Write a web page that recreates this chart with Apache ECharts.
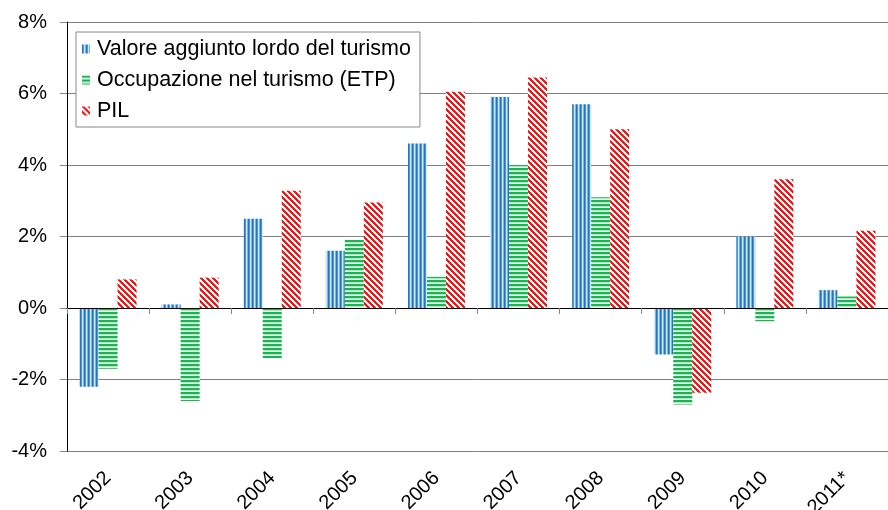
<!DOCTYPE html>
<html>
<head>
<meta charset="utf-8">
<script src="https://cdn.jsdelivr.net/npm/echarts@6/dist/echarts.min.js"></script>
<style>
  html, body { margin: 0; padding: 0; background: #fff; }
  #chart { width: 888px; height: 510px; }
</style>
</head>
<body>
<div id="chart"></div>
<script>
const categories = ['2002', '2003', '2004', '2005', '2006', '2007', '2008', '2009', '2010', '2011*']
const valoreAggiunto = [-2.2, 0.1, 2.5, 1.6, 4.6, 5.9, 5.7, -1.3, 2.0, 0.5]
const occupazione = [-1.7, -2.6, -1.4, 1.9, 0.87, 4.0, 3.1, -2.7, -0.37, 0.32]
const pil = [0.8, 0.85, 3.28, 2.95, 6.05, 6.45, 5.0, -2.37, 3.6, 2.16]
const yMin = -4, yMax = 8, yStep = 2

const font = 'Liberation Sans, Arial, sans-serif'

// striped fills drawn on small canvases
function stripes(w, h, paint) {
  const c = document.createElement('canvas')
  c.width = w; c.height = h
  const ctx = c.getContext('2d')
  for (let x = 0; x < w; x++) {
    for (let y = 0; y < h; y++) {
      ctx.fillStyle = paint(x, y)
      ctx.fillRect(x, y, 1, 1)
    }
  }
  return { image: c, repeat: 'repeat' }
}
const blueCols = ['#1f74c6', '#4f97da', '#d6e8f8', '#7fb5e6']
const greenRows = ['#18b554', '#18b554', '#b5e7c5', '#e6f7eb']
const blueFill = stripes(4, 1, (x) => blueCols[x])
const greenFill = stripes(1, 4, (x, y) => greenRows[y])
const redFill = stripes(6, 6, (x, y) => ((x - y + 6) % 6) < 3 ? '#ff1010' : '#ffffff')

const chart = echarts.init(document.getElementById('chart'))

const barBase = { type: 'bar', barWidth: 19, barGap: '0%', xAxisIndex: 0 }

chart.setOption({
  animation: false,
  textStyle: { fontFamily: font },
  grid: { left: 67, right: 0, top: 22, bottom: 59, containLabel: false, outerBoundsMode: 'none' },
  legend: {
    orient: 'vertical',
    left: 76,
    top: 32,
    padding: [6, 9, 5, 6],
    itemWidth: 8,
    itemHeight: 9,
    itemGap: 9,
    icon: 'rect',
    backgroundColor: '#fff',
    borderColor: '#888',
    borderWidth: 1,
    borderRadius: 0,
    textStyle: { fontSize: 21.5, color: '#000', fontFamily: font, padding: [0, 0, 0, 2] },
    data: ['Valore aggiunto lordo del turismo', 'Occupazione nel turismo (ETP)', 'PIL']
  },
  xAxis: [
    {
      type: 'category',
      data: categories,
      axisLine: { onZero: true, lineStyle: { color: '#000', width: 1 } },
      axisTick: { show: true, length: 6, lineStyle: { color: '#888' } },
      axisLabel: { show: false },
      z: 5
    },
    {
      type: 'category',
      data: categories,
      position: 'bottom',
      axisLine: { show: false, onZero: false },
      axisTick: { show: false },
      axisLabel: { rotate: 45, fontSize: 20, color: '#000', margin: 24, fontFamily: font, interval: 0 }
    }
  ],
  yAxis: {
    type: 'value',
    min: yMin,
    max: yMax,
    interval: yStep,
    axisLine: { show: true, lineStyle: { color: '#000' } },
    axisTick: { show: true, length: 7, lineStyle: { color: '#888' } },
    axisLabel: { formatter: '{value}%', fontSize: 20, color: '#000', margin: 20, fontFamily: font },
    splitLine: { lineStyle: { color: '#808080', width: 1 } }
  },
  series: [
    Object.assign({ name: 'Valore aggiunto lordo del turismo', data: valoreAggiunto, itemStyle: { color: blueFill } }, barBase),
    Object.assign({ name: 'Occupazione nel turismo (ETP)', data: occupazione, itemStyle: { color: greenFill } }, barBase),
    Object.assign({ name: 'PIL', data: pil, itemStyle: { color: redFill } }, barBase)
  ]
})
</script>
</body>
</html>
